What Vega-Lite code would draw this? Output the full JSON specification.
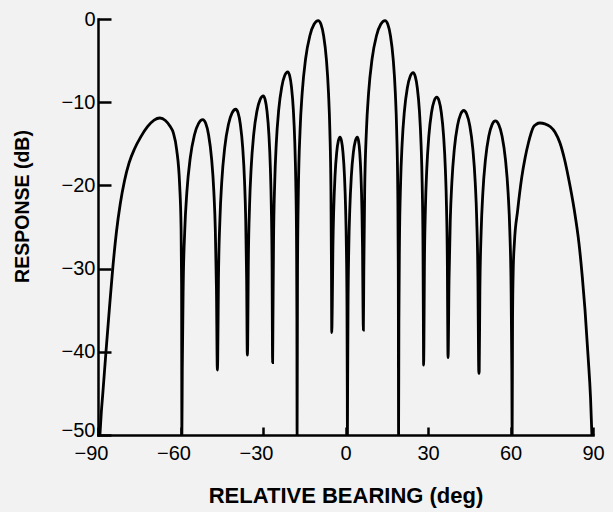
{
  "$schema": "https://vega.github.io/schema/vega-lite/v6.json",
  "width": 495,
  "height": 416,
  "autosize": {"type": "none"},
  "padding": {"left": 98, "top": 19, "right": 20, "bottom": 77},
  "background": "#f2f2f2",
  "config": {"view": {"stroke": null}, "font": "Liberation Sans"},
  "data": {"values": [
    {"bearing": -89.3, "response": -50},
    {"bearing": -88.8, "response": -47.3},
    {"bearing": -88.3, "response": -45.2},
    {"bearing": -87.1, "response": -40},
    {"bearing": -85.9, "response": -35},
    {"bearing": -84.7, "response": -30.2},
    {"bearing": -83.3, "response": -25.6},
    {"bearing": -81.9, "response": -22.2},
    {"bearing": -80.4, "response": -19.5},
    {"bearing": -78.7, "response": -17.3},
    {"bearing": -76.7, "response": -15.6},
    {"bearing": -74.5, "response": -14.2},
    {"bearing": -72.0, "response": -12.95},
    {"bearing": -69.6, "response": -12.15},
    {"bearing": -67.5, "response": -11.9},
    {"bearing": -65.5, "response": -12.2},
    {"bearing": -63.8, "response": -12.9},
    {"bearing": -62.6, "response": -13.7},
    {"bearing": -61.4, "response": -15.7},
    {"bearing": -60.3, "response": -20},
    {"bearing": -59.8, "response": -25},
    {"bearing": -59.6, "response": -32},
    {"bearing": -59.5, "response": -50},
    {"bearing": -59.35, "response": -42.2},
    {"bearing": -59.04, "response": -32.6},
    {"bearing": -58.44, "response": -25.3},
    {"bearing": -57.68, "response": -20.78},
    {"bearing": -56.46, "response": -16.71},
    {"bearing": -54.94, "response": -13.94},
    {"bearing": -53.42, "response": -12.54},
    {"bearing": -51.9, "response": -12.1},
    {"bearing": -50.84, "response": -12.54},
    {"bearing": -49.78, "response": -13.94},
    {"bearing": -48.72, "response": -16.71},
    {"bearing": -47.87, "response": -20.78},
    {"bearing": -47.34, "response": -25.3},
    {"bearing": -46.92, "response": -32.6},
    {"bearing": -46.6, "response": -42.2},
    {"bearing": -46.47, "response": -40.95},
    {"bearing": -46.2, "response": -31.35},
    {"bearing": -45.66, "response": -24.05},
    {"bearing": -44.99, "response": -19.53},
    {"bearing": -43.92, "response": -15.46},
    {"bearing": -42.58, "response": -12.69},
    {"bearing": -41.24, "response": -11.29},
    {"bearing": -39.9, "response": -10.85},
    {"bearing": -39.06, "response": -11.29},
    {"bearing": -38.22, "response": -12.69},
    {"bearing": -37.38, "response": -15.46},
    {"bearing": -36.71, "response": -19.53},
    {"bearing": -36.29, "response": -24.05},
    {"bearing": -35.95, "response": -31.35},
    {"bearing": -35.7, "response": -40.4},
    {"bearing": -35.58, "response": -39.35},
    {"bearing": -35.35, "response": -29.75},
    {"bearing": -34.89, "response": -22.45},
    {"bearing": -34.31, "response": -17.93},
    {"bearing": -33.38, "response": -13.86},
    {"bearing": -32.22, "response": -11.09},
    {"bearing": -31.06, "response": -9.69},
    {"bearing": -29.9, "response": -9.25},
    {"bearing": -29.22, "response": -9.69},
    {"bearing": -28.54, "response": -11.09},
    {"bearing": -27.86, "response": -13.86},
    {"bearing": -27.32, "response": -17.93},
    {"bearing": -26.98, "response": -22.45},
    {"bearing": -26.7, "response": -29.75},
    {"bearing": -26.57, "response": -39.35},
    {"bearing": -26.5, "response": -41.3},
    {"bearing": -26.39, "response": -36.45},
    {"bearing": -26.17, "response": -26.85},
    {"bearing": -25.73, "response": -19.55},
    {"bearing": -25.18, "response": -15.03},
    {"bearing": -24.3, "response": -10.96},
    {"bearing": -23.2, "response": -8.19},
    {"bearing": -22.1, "response": -6.79},
    {"bearing": -21.0, "response": -6.35},
    {"bearing": -20.32, "response": -6.79},
    {"bearing": -19.64, "response": -8.19},
    {"bearing": -18.96, "response": -10.96},
    {"bearing": -18.42, "response": -15.03},
    {"bearing": -18.08, "response": -19.55},
    {"bearing": -17.8, "response": -26.85},
    {"bearing": -17.67, "response": -36.45},
    {"bearing": -17.6, "response": -50},
    {"bearing": -17.45, "response": -30.3},
    {"bearing": -17.14, "response": -20.7},
    {"bearing": -16.52, "response": -13.4},
    {"bearing": -15.75, "response": -8.88},
    {"bearing": -14.52, "response": -4.81},
    {"bearing": -12.98, "response": -2.04},
    {"bearing": -11.44, "response": -0.64},
    {"bearing": -9.9, "response": -0.2},
    {"bearing": -8.92, "response": -0.64},
    {"bearing": -7.94, "response": -2.04},
    {"bearing": -6.96, "response": -4.81},
    {"bearing": -6.18, "response": -8.88},
    {"bearing": -5.69, "response": -13.4},
    {"bearing": -5.29, "response": -20.7},
    {"bearing": -5.1, "response": -30.3},
    {"bearing": -5.0, "response": -37.7},
    {"bearing": -4.82, "response": -34.7},
    {"bearing": -4.58, "response": -27.4},
    {"bearing": -4.28, "response": -22.88},
    {"bearing": -3.8, "response": -18.81},
    {"bearing": -3.2, "response": -16.04},
    {"bearing": -2.6, "response": -14.64},
    {"bearing": -2.0, "response": -14.2},
    {"bearing": -1.46, "response": -14.64},
    {"bearing": -0.92, "response": -16.04},
    {"bearing": -0.38, "response": -18.81},
    {"bearing": 0.05, "response": -22.88},
    {"bearing": 0.32, "response": -27.4},
    {"bearing": 0.54, "response": -34.7},
    {"bearing": 0.65, "response": -44.3},
    {"bearing": 0.7, "response": -50},
    {"bearing": 0.77, "response": -44.3},
    {"bearing": 0.92, "response": -34.7},
    {"bearing": 1.2, "response": -27.4},
    {"bearing": 1.56, "response": -22.88},
    {"bearing": 2.14, "response": -18.81},
    {"bearing": 2.86, "response": -16.04},
    {"bearing": 3.58, "response": -14.64},
    {"bearing": 4.3, "response": -14.2},
    {"bearing": 4.74, "response": -14.64},
    {"bearing": 5.18, "response": -16.04},
    {"bearing": 5.62, "response": -18.81},
    {"bearing": 5.97, "response": -22.88},
    {"bearing": 6.19, "response": -27.4},
    {"bearing": 6.37, "response": -34.7},
    {"bearing": 6.5, "response": -37.4},
    {"bearing": 6.66, "response": -30.3},
    {"bearing": 6.97, "response": -20.7},
    {"bearing": 7.61, "response": -13.4},
    {"bearing": 8.4, "response": -8.88},
    {"bearing": 9.66, "response": -4.81},
    {"bearing": 11.24, "response": -2.04},
    {"bearing": 12.82, "response": -0.64},
    {"bearing": 14.4, "response": -0.2},
    {"bearing": 15.38, "response": -0.64},
    {"bearing": 16.36, "response": -2.04},
    {"bearing": 17.34, "response": -4.81},
    {"bearing": 18.12, "response": -8.88},
    {"bearing": 18.61, "response": -13.4},
    {"bearing": 19.01, "response": -20.7},
    {"bearing": 19.2, "response": -30.3},
    {"bearing": 19.3, "response": -50},
    {"bearing": 19.41, "response": -36.55},
    {"bearing": 19.62, "response": -26.95},
    {"bearing": 20.04, "response": -19.65},
    {"bearing": 20.57, "response": -15.13},
    {"bearing": 21.42, "response": -11.06},
    {"bearing": 22.48, "response": -8.29},
    {"bearing": 23.54, "response": -6.89},
    {"bearing": 24.6, "response": -6.45},
    {"bearing": 25.36, "response": -6.89},
    {"bearing": 26.12, "response": -8.29},
    {"bearing": 26.88, "response": -11.06},
    {"bearing": 27.49, "response": -15.13},
    {"bearing": 27.87, "response": -19.65},
    {"bearing": 28.17, "response": -26.95},
    {"bearing": 28.32, "response": -36.55},
    {"bearing": 28.4, "response": -41.6},
    {"bearing": 28.5, "response": -39.5},
    {"bearing": 28.69, "response": -29.9},
    {"bearing": 29.07, "response": -22.6},
    {"bearing": 29.55, "response": -18.08},
    {"bearing": 30.32, "response": -14.01},
    {"bearing": 31.28, "response": -11.24},
    {"bearing": 32.24, "response": -9.84},
    {"bearing": 33.2, "response": -9.4},
    {"bearing": 34.02, "response": -9.84},
    {"bearing": 34.84, "response": -11.24},
    {"bearing": 35.66, "response": -14.01},
    {"bearing": 36.32, "response": -18.08},
    {"bearing": 36.73, "response": -22.6},
    {"bearing": 37.05, "response": -29.9},
    {"bearing": 37.22, "response": -39.5},
    {"bearing": 37.3, "response": -40.7},
    {"bearing": 37.64, "response": -31.5},
    {"bearing": 38.1, "response": -24.2},
    {"bearing": 38.67, "response": -19.68},
    {"bearing": 39.58, "response": -15.61},
    {"bearing": 40.72, "response": -12.84},
    {"bearing": 41.86, "response": -11.44},
    {"bearing": 43.0, "response": -11.0},
    {"bearing": 44.1, "response": -11.44},
    {"bearing": 45.2, "response": -12.84},
    {"bearing": 46.3, "response": -15.61},
    {"bearing": 47.18, "response": -19.68},
    {"bearing": 47.73, "response": -24.2},
    {"bearing": 48.17, "response": -31.5},
    {"bearing": 48.39, "response": -41.1},
    {"bearing": 48.5, "response": -42.6},
    {"bearing": 48.62, "response": -42.35},
    {"bearing": 48.86, "response": -32.75},
    {"bearing": 49.34, "response": -25.45},
    {"bearing": 49.94, "response": -20.93},
    {"bearing": 50.9, "response": -16.86},
    {"bearing": 52.1, "response": -14.09},
    {"bearing": 53.3, "response": -12.69},
    {"bearing": 54.5, "response": -12.25},
    {"bearing": 55.72, "response": -12.69},
    {"bearing": 56.94, "response": -14.09},
    {"bearing": 58.16, "response": -16.86},
    {"bearing": 59.14, "response": -20.93},
    {"bearing": 59.75, "response": -25.45},
    {"bearing": 60.23, "response": -32.75},
    {"bearing": 60.48, "response": -42.35},
    {"bearing": 60.6, "response": -50},
    {"bearing": 60.75, "response": -36},
    {"bearing": 61.0, "response": -30},
    {"bearing": 61.4, "response": -27},
    {"bearing": 62.6, "response": -23},
    {"bearing": 64.1, "response": -19},
    {"bearing": 65.3, "response": -16.7},
    {"bearing": 66.5, "response": -14.9},
    {"bearing": 67.5, "response": -13.7},
    {"bearing": 68.3, "response": -13.0},
    {"bearing": 69.4, "response": -12.65},
    {"bearing": 70.7, "response": -12.5},
    {"bearing": 72.5, "response": -12.6},
    {"bearing": 74.5, "response": -12.95},
    {"bearing": 76.2, "response": -13.6},
    {"bearing": 78.0, "response": -14.9},
    {"bearing": 79.6, "response": -16.8},
    {"bearing": 81.0, "response": -18.95},
    {"bearing": 83.2, "response": -22.96},
    {"bearing": 84.9, "response": -26.96},
    {"bearing": 86.1, "response": -30.97},
    {"bearing": 87.1, "response": -35},
    {"bearing": 88.2, "response": -40.5},
    {"bearing": 89.1, "response": -45.5},
    {"bearing": 89.6, "response": -50}
  ]},
  "mark": {"type": "line", "color": "black", "strokeWidth": 2.8, "interpolate": "monotone", "clip": true},
  "encoding": {
    "x": {
      "field": "bearing",
      "type": "quantitative",
      "scale": {"domain": [-90, 90], "nice": false, "zero": false},
      "axis": {
        "values": [-90, -60, -30, 0, 30, 60, 90],
        "title": "RELATIVE BEARING (deg)",
        "grid": false,
        "domainColor": "black",
        "domainWidth": 2.5,
        "domainCap": "square",
        "tickColor": "black",
        "tickWidth": 2.5,
        "tickSize": -8,
        "labelPadding": 16,
        "labelFlush": false,
        "labelOverlap": false,
        "labelOffset": {"condition": {"test": "datum.value < 0", "value": -7}, "value": 0},
        "labelFont": "Liberation Sans",
        "labelFontSize": 20,
        "labelColor": "black",
        "titleFont": "Liberation Sans",
        "titleFontSize": 22,
        "titleFontWeight": "bold",
        "titleColor": "black",
        "titleY": 67,
        "titleBaseline": "alphabetic"
      }
    },
    "y": {
      "field": "response",
      "type": "quantitative",
      "scale": {"domain": [-50, 0], "nice": false, "zero": false},
      "axis": {
        "values": [0, -10, -20, -30, -40, -50],
        "title": "RESPONSE (dB)",
        "grid": false,
        "domainColor": "black",
        "domainWidth": 2.5,
        "domainCap": "square",
        "tickColor": "black",
        "tickWidth": 2.5,
        "tickSize": -13,
        "labelPadding": 16,
        "labelFlush": false,
        "labelOverlap": false,
        "labelOffset": {"condition": {"test": "datum.value == -50", "value": -5}, "value": 0},
        "labelFont": "Liberation Sans",
        "labelFontSize": 20,
        "labelColor": "black",
        "titleFont": "Liberation Sans",
        "titleFontSize": 19.5,
        "titleFontWeight": "bold",
        "titleColor": "black",
        "titleX": -70,
        "titleY": 187,
        "titleAngle": 270,
        "titleBaseline": "alphabetic"
      }
    }
  }
}
